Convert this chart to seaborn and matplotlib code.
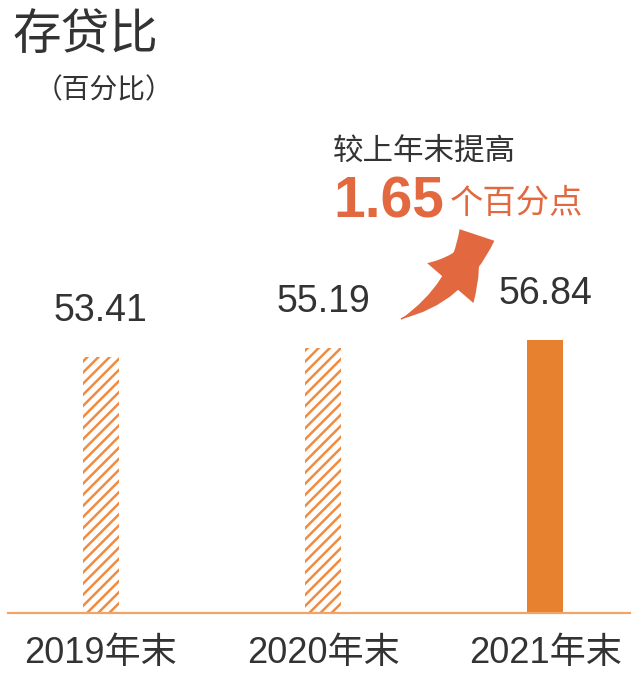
import matplotlib
matplotlib.use("Agg")
import matplotlib.pyplot as plt
import seaborn as sns
import pandas as pd

# ---- data ----
categories = ["2019年末", "2020年末", "2021年末"]
values = [53.41, 55.19, 56.84]
value_labels = ["53.41", "55.19", "56.84"]
title = "存贷比"
subtitle = "（百分比）"
note_line1 = "较上年末提高"
note_number = "1.65"
note_unit = "个百分点"

sns.set_theme(style="white")
plt.rcParams["font.family"] = ["Liberation Sans", "Noto Sans CJK SC", "DejaVu Sans"]
plt.rcParams["hatch.linewidth"] = 1.8

ORANGE = "#E8812F"
HATCH = "#F08C42"
LINE = "#F0A468"
ARROW = "#E2683F"
DARK = "#333333"

W, H = 640, 680
fig = plt.figure(figsize=(W / 100, H / 100), dpi=100)
fig.patch.set_facecolor("white")

base_px = 612.5
top_px = 100
ax = fig.add_axes([8 / W, (H - base_px) / H, 622 / W, (base_px - top_px) / H])

df = pd.DataFrame({"cat": categories, "val": values})
sns.barplot(data=df, x="cat", y="val", order=categories, color=ORANGE,
            width=0.162, ax=ax, saturation=1, errorbar=None)

for i, p in enumerate(ax.patches):
    p.set_linewidth(0)
    if i < 2:
        p.set_facecolor("white")
        p.set_edgecolor(HATCH)
        p.set_hatch("///")
    else:
        p.set_facecolor(ORANGE)
        p.set_edgecolor(ORANGE)

ax.set_xlim(-0.417, 2.381)
ax.set_ylim(0, (base_px - top_px) / 4.79)
ax.set_xlabel("")
ax.set_ylabel("")
ax.set_yticks([])
for s in ["left", "right", "top"]:
    ax.spines[s].set_visible(False)
ax.spines["bottom"].set_color(LINE)
ax.spines["bottom"].set_linewidth(1.6)
ax.tick_params(axis="x", length=0, pad=17, labelsize=26, labelcolor=DARK)

for i, (v, lab) in enumerate(zip(values, value_labels)):
    ax.annotate(lab, xy=(i, v), xytext=(0, 26), textcoords="offset points",
                ha="center", va="baseline", fontsize=27, color=DARK,
                family=["Liberation Sans", "DejaVu Sans"])

cjk = ["Noto Sans CJK SC", "DejaVu Sans"]
fig.text(85 / W, 1 - 35 / H, title, ha="center", va="center", fontsize=35,
         color=DARK, family=cjk, fontweight="light")
fig.text(104 / W, 1 - 90 / H, subtitle, ha="center", va="center", fontsize=20,
         color=DARK, family=cjk, style="italic", fontweight="light")

fig.text(424 / W, 1 - 151 / H, note_line1, ha="center", va="center", fontsize=22,
         color=DARK, family=cjk)
fig.text(333 / W, 1 - 217 / H, note_number, ha="left", va="baseline", fontsize=41,
         color=ARROW, fontweight="bold", family=["Liberation Sans", "DejaVu Sans"])
fig.text(450 / W, 1 - 203 / H, note_unit, ha="left", va="center", fontsize=24,
         color=ARROW, family=cjk)

# curved arrow: tapered body (wedge, pointed at the tail) + triangular head
tip = (477, H - 235)
tail = (401, H - 319)
ax.annotate("", xy=tail, xytext=tip,
            xycoords="figure pixels", textcoords="figure pixels",
            arrowprops=dict(arrowstyle="wedge,tail_width=1.2,shrink_factor=0.55",
                            connectionstyle="arc3,rad=-0.22", color=ARROW,
                            mutation_scale=22, shrinkA=0, shrinkB=0, lw=0))
ax.annotate("", xy=tip, xytext=tail,
            xycoords="figure pixels", textcoords="figure pixels",
            arrowprops=dict(arrowstyle="simple,head_length=1.8,head_width=2.0,tail_width=0.05",
                            connectionstyle="arc3,rad=0.22", color=ARROW,
                            mutation_scale=22, shrinkA=0, shrinkB=0, lw=0))

fig.savefig("out.png", dpi=100, facecolor="white")
